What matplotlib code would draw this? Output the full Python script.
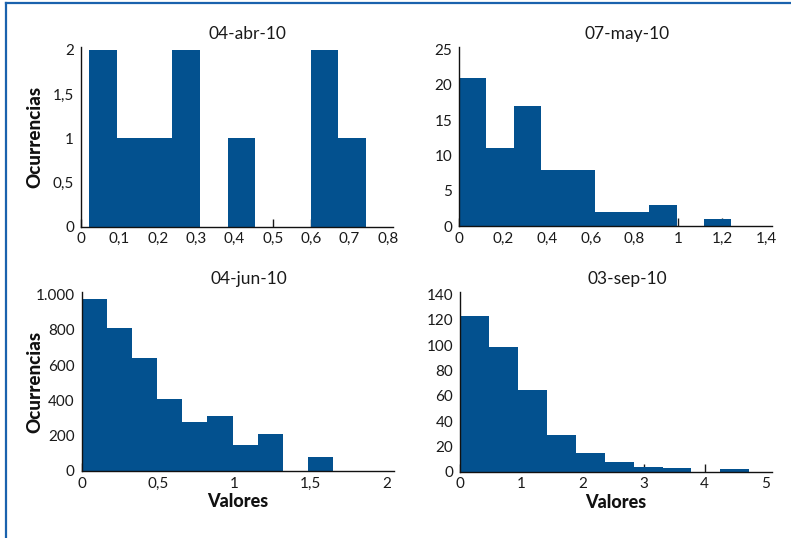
import matplotlib.pyplot as plt
from matplotlib.lines import Line2D
import numpy as np

plt.rcParams['font.family'] = ['Lato', 'DejaVu Sans']

titles = ['04-abr-10', '07-may-10', '04-jun-10', '03-sep-10']

# histogram counts (10 bins each)
counts_abr = [2, 1, 1, 2, 0, 1, 0, 0, 2, 1]
counts_may = [21, 11, 17, 8, 8, 2, 2, 3, 0, 1]
counts_jun = [974, 809, 640, 408, 277, 311, 147, 209, 0, 79]
counts_sep = [123, 99, 65, 29, 15, 8, 4, 3, 0, 2]

# range of values covered by the bins
range_abr = (0.022, 0.743)
range_may = (0.0, 1.24)
range_jun = (0.0, 1.65)
range_sep = (0.0, 4.73)

xticks_abr = [0, 0.1, 0.2, 0.3, 0.4, 0.5, 0.6, 0.7, 0.8]
xlabels_abr = ['0', '0,1', '0,2', '0,3', '0,4', '0,5', '0,6', '0,7', '0,8']
yticks_abr = [0, 0.5, 1, 1.5, 2]
ylabels_abr = ['0', '0,5', '1', '1,5', '2']

xticks_may = [0, 0.2, 0.4, 0.6, 0.8, 1, 1.2, 1.4]
xlabels_may = ['0', '0,2', '0,4', '0,6', '0,8', '1', '1,2', '1,4']
yticks_may = [0, 5, 10, 15, 20, 25]
ylabels_may = ['0', '5', '10', '15', '20', '25']

xticks_jun = [0, 0.5, 1, 1.5, 2]
xlabels_jun = ['0', '0,5', '1', '1,5', '2']
yticks_jun = [0, 200, 400, 600, 800, 1000]
ylabels_jun = ['0', '200', '400', '600', '800', '1.000']

xticks_sep = [0, 1, 2, 3, 4, 5]
xlabels_sep = ['0', '1', '2', '3', '4', '5']
yticks_sep = [0, 20, 40, 60, 80, 100, 120, 140]
ylabels_sep = ['0', '20', '40', '60', '80', '100', '120', '140']

bar_color = '#03518f'
W, H = 791, 538

fig = plt.figure(figsize=(W / 100, H / 100), dpi=100)


def px_axes(left, right, top, bottom):
    return fig.add_axes([left / W, 1 - bottom / H, (right - left) / W, (bottom - top) / H])


panels = [
    (px_axes(81, 393, 47, 226.7), counts_abr, range_abr, xticks_abr, xlabels_abr, yticks_abr, ylabels_abr, 0.814),
    (px_axes(459.3, 772.3, 47, 226), counts_may, range_may, xticks_may, xlabels_may, yticks_may, ylabels_may, 1.429),
    (px_axes(81.7, 394, 292, 471), counts_jun, range_jun, xticks_jun, xlabels_jun, yticks_jun, ylabels_jun, 2.05),
    (px_axes(460, 772, 292, 471.7), counts_sep, range_sep, xticks_sep, xlabels_sep, yticks_sep, ylabels_sep, 5.1),
]

for i, (ax, counts, rng, xt, xl, yt, yl, xmax) in enumerate(panels):
    edges = np.linspace(rng[0], rng[1], len(counts) + 1)
    ax.bar(edges[:-1], counts, width=edges[1] - edges[0], align='edge',
           color=bar_color, linewidth=0)
    ax.set_xlim(0, xmax)
    ax.set_ylim(0, yt[-1] * 1.015)
    ax.set_xticks(xt)
    ax.set_xticklabels(xl)
    ax.set_yticks(yt)
    ax.set_yticklabels(yl)
    ax.set_axisbelow(True)
    ax.tick_params(axis='x', direction='in', length=6, width=1, pad=4, labelsize=11, colors='#1a1a1a')
    ax.tick_params(axis='y', length=0, pad=5, labelsize=11, colors='#1a1a1a')
    # the last tick mark is not drawn in the original, only its label
    ax.xaxis.get_major_ticks()[-1].tick1line.set_visible(False)
    for side in ['top', 'right']:
        ax.spines[side].set_visible(False)
    for side in ['left', 'bottom']:
        ax.spines[side].set_linewidth(1.0)
        ax.spines[side].set_color('#111111')
    ax.text(0.535, 1.03, titles[i], transform=ax.transAxes, ha='center', va='bottom',
            fontsize=12.5, color='#1a1a1a')
    if i in (0, 2):
        ax.set_ylabel('Ocurrencias', fontsize=13.5, fontweight='black', color='#111111')
        ax.yaxis.set_label_coords(-0.122, 0.5)
    if i in (2, 3):
        ax.set_xlabel('Valores', fontsize=13, fontweight='black', labelpad=2, color='#111111')

# blue frame on the left and top of the figure
frame_color = '#1a62ad'
fig.add_artist(Line2D([6.5 / W, 6.5 / W], [0, 1 - 2.5 / H], color=frame_color, linewidth=1.6))
fig.add_artist(Line2D([6.5 / W, 1], [1 - 2.5 / H, 1 - 2.5 / H], color=frame_color, linewidth=1.6))

fig.savefig('out.png', dpi=100)
